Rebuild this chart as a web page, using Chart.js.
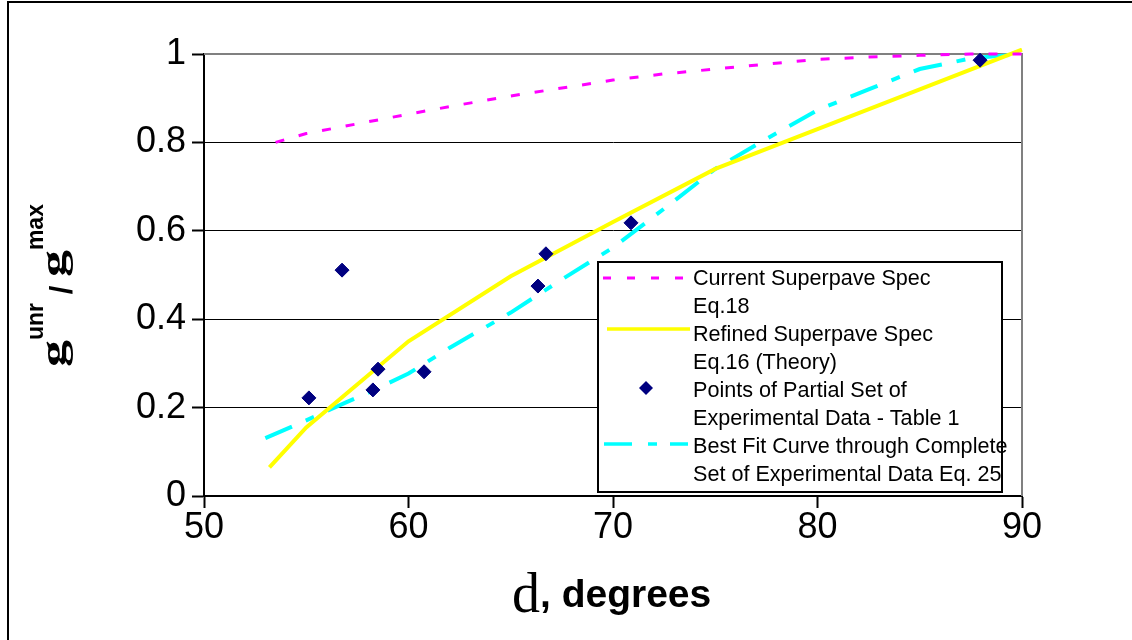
<!DOCTYPE html>
<html><head><meta charset="utf-8">
<script src="https://cdn.jsdelivr.net/npm/chart.js@4.4.1/dist/chart.umd.min.js"></script>
<style>html,body{margin:0;padding:0;background:#fff;} #wrap{width:1132px;height:640px;position:relative;}</style>
</head><body><div id="wrap"><canvas id="c" width="1132" height="640"></canvas></div>
<script>
const currentX = [53.5,55,57.5,60,62.5,65,67.5,70,72.5,75,77.5,80,82.5,85,87.5,90];
const currentY = [0.80,0.82,0.842,0.864,0.885,0.905,0.923,0.941,0.955,0.966,0.977,0.988,0.993,0.997,1.0,1.0];
const refinedX = [53.2,55,60,65,70,75,80,85,90];
const refinedY = [0.065,0.155,0.35,0.497,0.62,0.74,0.83,0.92,1.01];
const pointsX = [55.13,56.75,58.51,58.26,60.76,66.33,66.72,70.88,87.95];
const pointsY = [0.222,0.511,0.287,0.240,0.281,0.475,0.548,0.618,0.986];
const fitX = [53,55,57,58,60,62,65,67.5,70,72.5,75,77.5,80,82.5,85,87.5,90];
const fitY = [0.131,0.171,0.213,0.233,0.277,0.335,0.415,0.49,0.562,0.65,0.74,0.808,0.873,0.92,0.966,0.99,1.0];
const xTickValues = [50,60,70,80,90];
const xTickLabels = ['50','60','70','80','90'];
const yTickValues = [0,0.2,0.4,0.6,0.8,1];
const yTickLabels = ['0','0.2','0.4','0.6','0.8','1'];
const legendLines = ['Current Superpave Spec','Eq.18','Refined Superpave Spec','Eq.16 (Theory)','Points of Partial Set of','Experimental Data - Table 1','Best Fit Curve through Complete','Set of Experimental Data Eq. 25'];

const SANS = "'Liberation Sans', Arial, sans-serif";
const SERIF = "'Liberation Serif', 'Times New Roman', serif";
const zip = (xs, ys) => xs.map((x, i) => ({x, y: ys[i]}));

const decor = {
  id: 'decor',
  beforeDatasetsDraw(chart) {
    const {ctx, chartArea: a} = chart;
    ctx.save();
    ctx.strokeStyle = '#808080';
    ctx.lineWidth = 2;
    ctx.beginPath();
    ctx.moveTo(a.left, a.top); ctx.lineTo(a.right, a.top); ctx.lineTo(a.right, a.bottom);
    ctx.stroke();
    ctx.restore();
  },
  afterDraw(chart) {
    const {ctx} = chart;
    ctx.save();
    ctx.fillStyle = '#000';
    ctx.fillRect(7, 1, 2, 639);
    ctx.fillRect(7, 1, 1125, 2);
    const L = 598, T = 262, R = 1002, B = 492;
    ctx.fillStyle = '#fff';
    ctx.fillRect(L, T, R - L, B - T);
    ctx.strokeStyle = '#000'; ctx.lineWidth = 2;
    ctx.strokeRect(L, T, R - L, B - T);
    ctx.fillStyle = '#000';
    ctx.font = '21.6px ' + SANS;
    ctx.textBaseline = 'middle';
    ctx.textAlign = 'left';
    legendLines.forEach((t, i) => ctx.fillText(t, 693, 279 + 28 * i));
    ctx.lineCap = 'butt';
    ctx.strokeStyle = '#FF00FF'; ctx.lineWidth = 3; ctx.setLineDash([8, 16]);
    ctx.beginPath(); ctx.moveTo(603, 278); ctx.lineTo(684, 278); ctx.stroke();
    ctx.strokeStyle = '#FFFF00'; ctx.lineWidth = 3.5; ctx.setLineDash([]);
    ctx.beginPath(); ctx.moveTo(607, 329); ctx.lineTo(690, 329); ctx.stroke();
    ctx.fillStyle = '#000080';
    ctx.beginPath(); ctx.moveTo(646 - 7, 388); ctx.lineTo(646, 388 - 7); ctx.lineTo(646 + 7, 388); ctx.lineTo(646, 388 + 7); ctx.closePath(); ctx.fill();
    ctx.strokeStyle = '#00FFFF'; ctx.lineWidth = 3.5; ctx.setLineDash([28, 16, 9, 13]);
    ctx.beginPath(); ctx.moveTo(604, 444); ctx.lineTo(688, 444); ctx.stroke();
    ctx.setLineDash([]);
    ctx.fillStyle = '#000';
    ctx.textBaseline = 'alphabetic';
    ctx.font = '56px ' + SERIF;
    ctx.fillText('d', 512, 612);
    const dw = ctx.measureText('d').width;
    ctx.font = 'bold 39px ' + SANS;
    ctx.fillText(', degrees', 512 + dw, 607);
    ctx.translate(65, 367);
    ctx.rotate(-Math.PI / 2);
    let u = 0;
    const piece = (txt, font, v) => { ctx.font = font; ctx.fillText(txt, u, v); u += ctx.measureText(txt).width; };
    const bigG = () => {
      ctx.font = 'bold 54px ' + SERIF;
      ctx.save(); ctx.translate(u, 0); ctx.scale(1, 0.68); ctx.fillText('g', 0, 0); ctx.restore();
      u += ctx.measureText('g').width;
    };
    bigG();
    piece('unr', 'bold 23px ' + SANS, -22);
    piece(' / ', 'bold 31px ' + SANS, 7);
    bigG();
    piece('max', 'bold 23px ' + SANS, -22);
    ctx.restore();
  }
};

new Chart(document.getElementById('c'), {
  type: 'scatter',
  data: {
    datasets: [
      {label: 'Current Superpave Spec Eq.18', data: zip(currentX, currentY), showLine: true, borderColor: '#FF00FF', borderWidth: 3, borderDash: [9, 15], pointRadius: 0, fill: false, order: 1, clip: 6},
      {label: 'Refined Superpave Spec Eq.16 (Theory)', data: zip(refinedX, refinedY), showLine: true, borderColor: '#FFFF00', borderWidth: 4, pointRadius: 0, fill: false, order: 1, clip: 6},
      {label: 'Points of Partial Set of Experimental Data - Table 1', data: zip(pointsX, pointsY), showLine: false, pointStyle: 'rectRot', pointRadius: 7, backgroundColor: '#000080', borderColor: '#000080', borderWidth: 1, order: 0, clip: 8},
      {label: 'Best Fit Curve through Complete Set of Experimental Data Eq. 25', data: zip(fitX, fitY), showLine: true, borderColor: '#00FFFF', borderWidth: 4, borderDash: [29, 15, 9, 15], pointRadius: 0, fill: false, order: 1, clip: 6}
    ]
  },
  options: {
    responsive: false, animation: false, devicePixelRatio: 1,
    layout: {padding: {left: 0, right: 110, top: 54, bottom: 0}},
    plugins: {legend: {display: false}, tooltip: {enabled: false}},
    elements: {line: {tension: 0}},
    scales: {
      x: {
        type: 'linear', min: 50, max: 90,
        afterFit: s => { s.height = 144; },
        afterBuildTicks: s => { s.ticks = xTickValues.map(v => ({value: v})); },
        ticks: {callback: (v) => xTickLabels[xTickValues.indexOf(v)], color: '#000', font: {family: SANS, size: 36}, padding: -2, maxRotation: 0, autoSkip: false},
        grid: {drawOnChartArea: false, drawTicks: true, tickLength: 12, tickColor: '#000', tickWidth: 2, color: '#000'},
        border: {color: '#000', width: 2}
      },
      y: {
        type: 'linear', min: 0, max: 1,
        afterFit: s => { s.width = 204; },
        afterBuildTicks: s => { s.ticks = yTickValues.map(v => ({value: v})); },
        ticks: {callback: (v) => yTickLabels[yTickValues.indexOf(v)], color: '#000', font: {family: SANS, size: 36}, padding: 6, autoSkip: false},
        grid: {color: c => (c.tick && c.tick.value === 1) ? '#808080' : '#000', lineWidth: 1, tickLength: 12, tickColor: '#000', tickWidth: 2},
        border: {color: '#000', width: 2}
      }
    }
  },
  plugins: [decor]
});
</script></body></html>
